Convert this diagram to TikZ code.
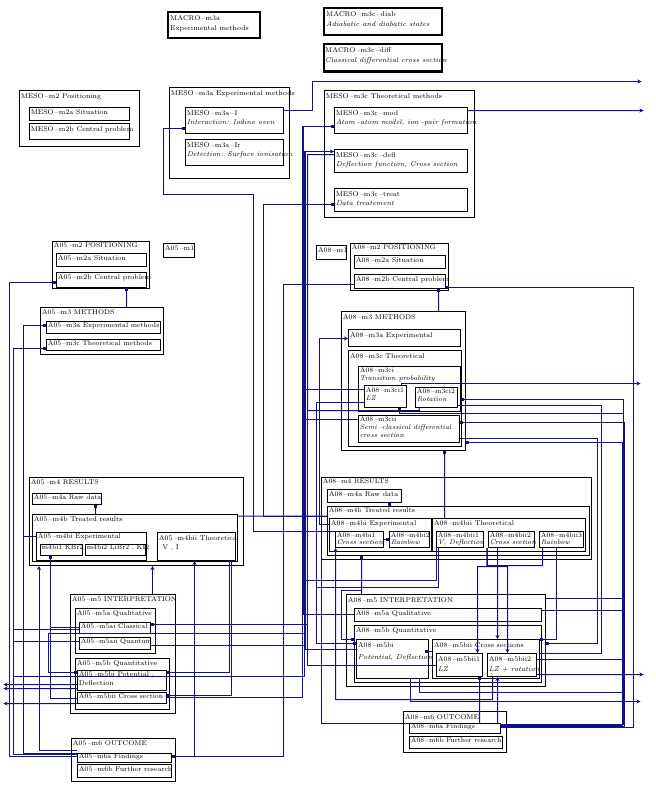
\documentclass[tikz,border=0pt]{standalone}
\usepackage{tikz}
\usetikzlibrary{arrows.meta, fit}
\definecolor{WireBlue}{HTML}{10108E}
\newcommand{\dsh}{\,--}

\begin{document}
\begin{tikzpicture}[x=1bp, y=-1bp,
    box/.style={draw, line width=1bp, inner sep=0pt},
    macro/.style={box, line width=2bp},
    lbl/.style={anchor=north west, inner xsep=1.6pt, inner ysep=2pt, align=left, font=\fontsize{7}{9.5}\selectfont},
    meso/.style={lbl, inner ysep=3pt},
    head/.style={lbl, inner ysep=4pt, inner xsep=3.5pt, font=\fontsize{7}{10}\selectfont},
    tight/.style={lbl, inner ysep=1pt, font=\fontsize{6.8}{7.2}\selectfont},
    wire/.style={draw=WireBlue, line width=1bp},
    sqs/.style={{Square[length=3bp,width=3bp]}-},
    sqe/.style={-{Square[length=3bp,width=3bp]}},
    arr/.style={-{Stealth[length=4bp,width=4bp]}}
]
\useasboundingbox (-0.5,-0.5) rectangle (655.5,792.5);

% --- MACRO ---
\node[macro, fit={(167,12) (259,38)}] (macrom3a) {};
\node[head] at (macrom3a.north west) {MACRO\dsh m3a\\Experimental methods};
\node[macro, fit={(323,8) (441,35)}] (macrodiab) {};
\node[head] at (macrodiab.north west) {MACRO\dsh m3c\dsh diab\\\textit{Adiabatic and diabatic states}};
\node[macro, fit={(323,44) (441,71)}] (macrodiff) {};
\node[head, inner xsep=2.5pt] at (macrodiff.north west) {MACRO\dsh m3c\dsh diff\\\textit{Classical differential cross section}};

% --- MESO ---
\node[box, fit={(19,90) (139,146)}] (mesom2) {};
\node[meso] at (mesom2.north west) {MESO\dsh m2 Positioning};
\node[box, fit={(29,107) (129,120)}] (mesom2a) {};
\node[lbl] at (mesom2a.north west) {MESO\dsh m2a Situation};
\node[box, fit={(29,123) (129,139)}] (mesom2b) {};
\node[lbl, inner ysep=3pt] at (mesom2b.north west) {MESO\dsh m2b Central problem};

\node[box, fit={(169,87) (289,178)}] (mesom3a) {};
\node[meso] at (mesom3a.north west) {MESO\dsh m3a Experimental methods};
\node[box, fit={(185,107) (283,133)}] (mesom3aI) {};
\node[meso] at (mesom3aI.north west) {MESO\dsh m3a\dsh I\\\textit{Interaction: Iodine oven}};
\node[box, fit={(185,139) (283,165)}] (mesom3aD) {};
\node[meso] at (mesom3aD.north west) {MESO\dsh m3a\dsh Ir\\\textit{Detection: Surface ionisation}};

\node[box, fit={(324,90) (474,217)}] (mesom3c) {};
\node[meso] at (mesom3c.north west) {MESO\dsh m3c Theoretical methods};
\node[box, fit={(334,107) (467,133)}] (mesom3cmod) {};
\node[meso] at (mesom3cmod.north west) {MESO\dsh m3c\dsh mod\\\textit{Atom\dsh atom model, ion\dsh pair formation}};
\node[box, fit={(334,149) (467,172)}] (mesom3cdefl) {};
\node[meso] at (mesom3cdefl.north west) {MESO\dsh m3c\dsh defl\\\textit{Deflection function, Cross section}};
\node[box, fit={(334,188) (467,211)}] (mesom3ctreat) {};
\node[meso] at (mesom3ctreat.north west) {MESO\dsh m3c\dsh treat\\\textit{Data treatement}};

% --- A05 ---
\node[box, fit={(163,243) (194,257)}] (a05m1) {};
\node[lbl] at (a05m1.north west) {A05\dsh m1};
\node[box, fit={(52,241) (149,288)}] (a05m2) {};
\node[tight] at (a05m2.north west) {A05\dsh m2 POSITIONING};
\node[box, fit={(56,253) (146,266)}] (a05m2a) {};
\node[lbl] at (a05m2a.north west) {A05\dsh m2a Situation};
\node[box, fit={(56,272) (146,287)}] (a05m2b) {};
\node[lbl] at (a05m2b.north west) {A05\dsh m2b Central problem};

\node[box, fit={(40,307) (163,354)}] (a05m3) {};
\node[lbl] at (a05m3.north west) {A05\dsh m3 METHODS};
\node[box, fit={(46,321) (160,333)}] (a05m3a) {};
\node[tight, inner ysep=1.5pt] at (a05m3a.north west) {A05\dsh m3a Experimental methods};
\node[box, fit={(46,339) (160,350)}] (a05m3c) {};
\node[tight] at (a05m3c.north west) {A05\dsh m3c Theoretical methods};

\node[box, fit={(29,477) (243,565)}] (a05m4) {};
\node[lbl] at (a05m4.north west) {A05\dsh m4 RESULTS};
\node[box, fit={(32,493) (101,504)}] (a05m4a) {};
\node[tight] at (a05m4a.north west) {A05\dsh m4a Raw data};
\node[box, fit={(32,514) (237,561)}] (a05m4b) {};
\node[lbl] at (a05m4b.north west) {A05\dsh m4b Treated results};
\node[box, fit={(36,532) (146,560)}] (a05m4bi) {};
\node[tight] at (a05m4bi.north west) {A05\dsh m4bi Experimental};
\node[box, fit={(40,544) (82,555)}] (a05m4bia) {};
\node[tight] at (a05m4bia.north west) {m4bi1 KBr2};
\node[box, fit={(85,544) (145,555)}] (a05m4bib) {};
\node[tight] at (a05m4bib.north west) {m4bi2 LiBr2 , KI2};
\node[box, fit={(157,532) (235,560)}] (a05m4bii) {};
\node[lbl, inner ysep=3pt] at (a05m4bii.north west) {A05\dsh m4bii Theoretica\\\enspace V , I};

\node[box, fit={(70,594) (175,713)}] (a05m5) {};
\node[lbl] at (a05m5.north west) {A05\dsh m5 INTERPRETATION};
\node[box, fit={(75,608) (155,653)}] (a05m5a) {};
\node[lbl] at (a05m5a.north west) {A05\dsh m5a Qualitative};
\node[box, fit={(79,622) (150,633)}] (a05m5ai) {};
\node[tight] at (a05m5ai.north west) {A05\dsh m5ai Classical};
\node[box, fit={(79,637) (150,649)}] (a05m5aii) {};
\node[tight] at (a05m5aii.north west) {A05\dsh m5aii Quantum};
\node[box, fit={(75,658) (169,709)}] (a05m5b) {};
\node[lbl] at (a05m5b.north west) {A05\dsh m5b Quantitative};
\node[box, fit={(77,670) (166,690)}] (a05m5bi) {};
\node[lbl, inner ysep=1pt, font=\fontsize{7}{9}\selectfont] at (a05m5bi.north west) {A05\dsh m5bi Potential ,\\Deflection};
\node[box, fit={(77,692) (166,703)}] (a05m5bii) {};
\node[tight] at (a05m5bii.north west) {A05\dsh m5bii Cross section};

\node[box, fit={(71,738) (175,781)}] (a05m6) {};
\node[lbl] at (a05m6.north west) {A05\dsh m6 OUTCOME};
\node[box, fit={(77,753) (171,762)}] (a05m6a) {};
\node[tight, inner ysep=0.6pt] at (a05m6a.north west) {A05\dsh m6a Findings};
\node[box, fit={(77,764) (171,777)}] (a05m6b) {};
\node[lbl] at (a05m6b.north west) {A05\dsh m6b Further research};

% --- A08 ---
\node[box, fit={(316,245) (346,259)}] (a08m1) {};
\node[lbl] at (a08m1.north west) {A08\dsh m1};
\node[box, fit={(350,243) (448,290)}] (a08m2) {};
\node[tight] at (a08m2.north west) {A08\dsh m2 POSITIONING};
\node[box, fit={(354,255) (445,268)}] (a08m2a) {};
\node[lbl] at (a08m2a.north west) {A08\dsh m2a Situation};
\node[box, fit={(354,274) (445,288)}] (a08m2b) {};
\node[lbl] at (a08m2b.north west) {A08\dsh m2b Central problem};

\node[box, fit={(341,311) (465,450)}] (a08m3) {};
\node[meso] at (a08m3.north west) {A08\dsh m3 METHODS};
\node[box, fit={(348,329) (460,346)}] (a08m3a) {};
\node[meso] at (a08m3a.north west) {A08\dsh m3a Experimental};
\node[box, fit={(348,350) (461,446)}] (a08m3c) {};
\node[meso] at (a08m3c.north west) {A08\dsh m3c Theoretical};
\node[box, fit={(358,366) (460,411)}] (a08m3ci) {};
\node[tight, font=\fontsize{6.8}{8}\selectfont] at (a08m3ci.north west) {A08\dsh m3ci\\\textit{Transition probability}};
\node[box, fit={(364,385) (406,407)}] (a08m3cia) {};
\node[lbl, font=\fontsize{6.8}{9}\selectfont] at (a08m3cia.north west) {A08\dsh m3ci1\\\textit{LZ}};
\node[box, fit={(415,387) (457,407)}] (a08m3cib) {};
\node[lbl, inner ysep=1.5pt, font=\fontsize{6.8}{8.5}\selectfont] at (a08m3cib.north west) {A08\dsh m3ci2\\\textit{Rotation}};
\node[box, fit={(358,415) (459,442)}] (a08m3cii) {};
\node[tight, font=\fontsize{6.8}{8.5}\selectfont] at (a08m3cii.north west) {A08\dsh m3cii\\\textit{Semi\dsh classical differential}\\\textit{cross section}};

\node[box, fit={(321,477) (591,559)}] (a08m4) {};
\node[tight] at (a08m4.north west) {A08\dsh m4 RESULTS};
\node[box, fit={(327,489) (401,502)}] (a08m4a) {};
\node[lbl] at (a08m4a.north west) {A08\dsh m4a Raw data};
\node[box, fit={(327,506) (589,555)}] (a08m4b) {};
\node[tight] at (a08m4b.north west) {A08\dsh m4b Treated results};
\node[box, fit={(329,518) (431,551)}] (a08m4bi) {};
\node[lbl] at (a08m4bi.north west) {A08\dsh m4bi Experimental};
\node[box, fit={(335,531) (383,547)}] (a08m4bia) {};
\node[tight] at (a08m4bia.north west) {A08\dsh m4bi1\\\textit{Cross section}};
\node[box, fit={(389,531) (429,547)}] (a08m4bib) {};
\node[tight] at (a08m4bib.north west) {A08\dsh m4bi2\\\textit{Rainbow}};
\node[box, fit={(432,518) (585,551)}] (a08m4bii) {};
\node[lbl] at (a08m4bii.north west) {A08\dsh m4bii Theoretical};
\node[box, fit={(436,531) (483,547)}] (a08m4biia) {};
\node[tight] at (a08m4biia.north west) {A08\dsh m4bii1\\\textit{V, Deflection}};
\node[box, fit={(488,531) (534,547)}] (a08m4biib) {};
\node[tight] at (a08m4biib.north west) {A08\dsh m4bii2\\\textit{Cross section}};
\node[box, fit={(539,531) (583,547)}] (a08m4biic) {};
\node[tight] at (a08m4biic.north west) {A08\dsh m4bii3\\\textit{Rainbow}};

\node[box, fit={(346,594) (545,686)}] (a08m5) {};
\node[meso] at (a08m5.north west) {A08\dsh m5 INTERPRETATION};
\node[box, fit={(354,608) (541,621)}] (a08m5a) {};
\node[lbl] at (a08m5a.north west) {A08\dsh m5a Qualitative};
\node[box, fit={(354,625) (541,682)}] (a08m5b) {};
\node[lbl] at (a08m5b.north west) {A08\dsh m5b Quantitative};
\node[box, fit={(356,639) (428,678)}] (a08m5bi) {};
\node[meso, font=\fontsize{7}{12}\selectfont] at (a08m5bi.north west) {A08\dsh m5bi\\\textit{Potential, Deflection}};
\node[box, fit={(432,639) (539,678)}] (a08m5bii) {};
\node[meso] at (a08m5bii.north west) {A08\dsh m5bii Cross sections};
\node[box, fit={(436,653) (482,676)}] (a08m5biia) {};
\node[meso, font=\fontsize{7}{10}\selectfont] at (a08m5biia.north west) {A08\dsh m5bii1\\\textit{LZ}};
\node[box, fit={(487,653) (536,676)}] (a08m5biib) {};
\node[meso, font=\fontsize{7}{10}\selectfont] at (a08m5biib.north west) {A08\dsh m5bii2\\\textit{LZ + rotation}};

\node[box, fit={(403,711) (506,752)}] (a08m6) {};
\node[meso] at (a08m6.north west) {A08\dsh m6 OUTCOME};
\node[box, fit={(409,723) (500,733)}] (a08m6a) {};
\node[tight, inner ysep=0.6pt] at (a08m6a.north west) {A08\dsh m6a Findings};
\node[box, fit={(409,736) (502,748)}] (a08m6b) {};
\node[tight, inner ysep=1.5pt] at (a08m6b.north west) {A08\dsh m6b Further research};

% free ends at the margins
\coordinate (outa) at (641,81);
\coordinate (outb) at (643,110);
\coordinate (outc) at (640,383);
\coordinate (outd) at (643,674);
\coordinate (oute) at (640,701);
\coordinate (outl1) at (3,684);
\coordinate (outl2) at (3,688);
\coordinate (outl3) at (3,703);

% --- connectors from MESO ---
\draw[wire, arr] ([yshift=10bp]mesom3aI.east) -| (312,95) |- (outa);
\draw[wire, arr] ([yshift=10bp]mesom3cmod.east) -- (outb);
\draw[wire, sqs] ([yshift=-8bp]mesom3aI.west) -| (163,194) -| (253,400) |- ([yshift=8bp]a08m4bia.west);
\draw[wire, sqs] ([yshift=-4.5bp]mesom3ctreat.west) -| (263,400) |- ([yshift=-10bp]a08m4b.north west);
\draw[wire] ([yshift=-2bp]a05m4b.north east) -- ([yshift=-10bp]a08m4b.north west);
\draw[wire, sqs] ([yshift=-6bp]mesom3cmod.west) -| (302,300) |- ([yshift=7bp]a08m3cia.west);
\draw[wire, arr] ([yshift=9.5bp]a08m3cii.west) -| (305,300) |- ([yshift=9.5bp]mesom3cdefl.west);
\draw[wire] ([yshift=6.5bp]mesom3cdefl.west) -| (307,300) |- (419,410) -- ([xshift=4bp]a08m3cib.south west);

% --- connectors A05 ---
\draw[wire, sqs] ([xshift=25bp]a05m2b.south) -- ([xshift=24.5bp]a05m3.north);
\draw[wire, sqs] ([yshift=-2.5bp]a05m2b.west) -| (9,500) |- ([yshift=1.5bp]a05m6a.west);
\draw[wire, sqs] ([yshift=2bp]a05m3a.west) -| (23,500) |- ([yshift=4.5bp]a05m6a.west);
\draw[wire, sqs] ([yshift=-3.5bp]a05m3c.west) -| (13,500) |- ([yshift=3.5bp]a05m6a.west);
\draw[wire] ([yshift=10bp]a05m4bi.west) -| (23,400) |- ([yshift=2bp]a05m3a.west);
\draw[wire, arr] ([yshift=7.5bp]a05m6a.west) -| ([xshift=10bp]a05m4.south west);
\draw[wire, sqs] ([xshift=-11bp]a05m4bia.south) |- ([yshift=0.5bp]a05m5ai.west);
\draw[wire] ([xshift=-11bp]a05m4bia.south) |- ([yshift=-0.5bp]a05m5bii.west);
\draw[wire, arr] ([xshift=29.5bp]a05m5.north) -- ([xshift=29.5bp]a05m5.north |- a05m4.south);
\draw[wire, sqe] ([xshift=33bp]a05m4bii.south) |- ([yshift=8bp]a05m5bi.east);
\draw[wire, sqe] ([xshift=35bp]a05m4bii.south) |- ([yshift=2.5bp]a05m5bii.east);
\draw[wire, sqs] ([yshift=1.5bp]a05m6a.east) -| (283,500) |- ([yshift=-3bp]a08m2b.west);
\draw[wire, arr] ([yshift=1.5bp]a05m6a.east) -| ([xshift=-2bp]a05m4bii.south);
\draw[wire, sqs] ([xshift=28.5bp]a05m4a.south) -- ([xshift=-39.5bp]a05m4b.north);
\draw[wire, sqs] ([yshift=3.5bp]a05m5ai.east) -| (307,500) |- ([yshift=6.5bp]mesom3cdefl.west);
\draw[wire] ([yshift=-2bp]a05m5aii.east) -| (305,500) |- ([yshift=9.5bp]mesom3cdefl.west);
\draw[wire] ([yshift=0.5bp]a05m5bii.east) -| (302,500) |- ([yshift=-6bp]mesom3cmod.west);
\draw[wire] ([yshift=-1.5bp]a05m5ai.west) -| (13,500) |- ([yshift=-3.5bp]a05m3c.west);
\draw[wire] ([yshift=2bp]a05m5aii.west) -| (13,500) |- ([yshift=-3.5bp]a05m3c.west);
\draw[wire, sqs] ([yshift=8bp]a05m5bi.west) -| (48,650) |- (305,633) |- ([yshift=9.5bp]mesom3cdefl.west);
\draw[wire] ([yshift=-3.5bp]a05m3c.west) -| (13,600) |- (304,676) |- ([yshift=9.5bp]mesom3cdefl.west);
\draw[wire, arr] ([yshift=-4bp]a05m5bi.west) -- (outl1);
\draw[wire, arr] ([yshift=-8bp]a05m5bi.west) -- (outl2);
\draw[wire, arr] ([yshift=-5.5bp]a05m5bii.west) -- (outl3);

% --- connectors A08 ---
\draw[wire, sqs] ([xshift=38.5bp]a08m2b.south) -- ([xshift=35bp]a08m3.north);
\draw[wire, sqs] ([xshift=41bp]a08m3.south) -- ([xshift=-64.5bp]a08m4bii.north);
\draw[wire, sqe] ([yshift=1bp]a08m6a.east) -| (633,500) |- ([yshift=-6bp]a08m2b.east);
\draw[wire, arr] ([xshift=16bp]a08m3cia.north) |- (outc);
\draw[wire, sqs] ([yshift=-10.5bp]a08m3ci.east) -| (623,500) |- ([yshift=4bp]a08m6a.east);
\draw[wire] ([yshift=-8bp]a08m3cib.east) -| (601,500) |- ([yshift=5.5bp]a08m5bii.east);
\draw[wire, sqs] ([xshift=14bp]a08m3cia.south) |- (623,413) |- ([yshift=4bp]a08m6a.east);
\draw[wire, sqs] ([yshift=6.5bp]a08m3cii.east) -| (624,500) |- ([yshift=2bp]a08m6a.east);
\draw[wire, sqe] ([yshift=-9.5bp]a08m3cii.east) -| (597,500) |- ([yshift=-3bp]a08m5.east);
\draw[wire, sqs] ([yshift=-61.5bp]a08m3.east) -| (622,500) |- ([yshift=3bp]a08m6a.east);
\draw[wire] ([xshift=-19bp]a08m4biic.south) |- (487,565) -- ([xshift=-24.5bp]a08m4biib.south);
\draw[wire, arr] ([xshift=-24.5bp]a08m4biib.south) |- (477,566) -- ([xshift=18bp]a08m5biia.north);
\draw[wire, arr] ([xshift=-24.5bp]a08m4biib.south) |- (507,566) -- ([xshift=-4.5bp]a08m5biib.north);
\draw[wire, arr] ([xshift=-14bp]a08m4biib.south) -- ([xshift=11.5bp]a08m5bii.north);
\draw[wire, sqe] ([xshift=-5bp]a08m4biic.south) |- ([yshift=19.5bp]a08m5bii.east);
\draw[wire] ([xshift=-21.5bp]a08m4biia.south) |- (316,587) |- ([yshift=-6bp]a08m3cia.west);
\draw[wire] ([xshift=-23.5bp]a08m4biia.south) |- (303,580) |- ([yshift=-6bp]mesom3cmod.west);
\draw[wire, sqs] ([yshift=15.5bp]a08m5bi.west) -| (316,500) |- ([yshift=-6bp]a08m3cia.west);
\draw[wire, arr] ([xshift=-19.5bp]a08m5biib.south) |- (335,699) -- ([xshift=-24bp]a08m4bia.south);
\draw[wire, sqs] ([xshift=-97bp]a08m4b.south) -- ([xshift=-84.5bp]a08m5.north);
\draw[wire, sqe] ([xshift=-97bp]a08m4b.south) |- (341,590) |- ([yshift=14.5bp]a08m5b.west);
\draw[wire] ([yshift=0.5bp]a08m5a.west) -| (303,500) |- ([yshift=-6bp]mesom3cmod.west);
\draw[wire] ([yshift=9.5bp]a08m5bi.west) -| (305,500) |- ([yshift=9.5bp]mesom3cdefl.west);
\draw[wire] ([yshift=-0.5bp]a08m5biia.west) -| (307,500) |- ([yshift=6.5bp]mesom3cdefl.west);
\draw[wire, sqe] ([yshift=7.5bp]a08m5bii.west) -- ([xshift=-4bp, yshift=7.5bp]a08m5bi.east);
\draw[wire] ([yshift=5.5bp]a08m5biib.east) -| (622,700) |- ([yshift=3bp]a08m6a.east);
\draw[wire, arr] ([yshift=-9.5bp]a08m5biib.east) -- (outd);
\draw[wire] ([yshift=42bp]a08m5.east) -| (623,700) |- ([yshift=4bp]a08m6a.east);
\draw[wire] ([yshift=4.5bp]a08m5a.east) -| (623,700) |- ([yshift=4bp]a08m6a.east);
\draw[wire, arr] ([xshift=18bp]a08m5bi.south) |- (oute);
\draw[wire] ([xshift=27bp]a08m5bi.south) |- (623,692) |- ([yshift=4bp]a08m6a.east);
\draw[wire, sqs] ([xshift=20bp]a08m5biia.south) -- ([xshift=24.5bp]a08m6a.north);
\draw[wire, arr] ([xshift=42.5bp]a08m6a.north) -- ([xshift=-14.5bp]a08m5biib.south);
\draw[wire] ([yshift=5bp]a08m6a.west) -| (321,600) |- ([yshift=10.5bp]a08m4bi.west);
\draw[wire, arr] ([yshift=10.5bp]a08m4bi.west) -| (319,450) |- ([yshift=-0.5bp]a08m3a.west);
\draw[wire, sqs] ([xshift=25bp]a08m4a.south) -- ([xshift=-69bp]a08m4b.north);
\draw[wire, sqe] (a08m4bia.east) -- (a08m4bib.west);
\end{tikzpicture}
\end{document}
